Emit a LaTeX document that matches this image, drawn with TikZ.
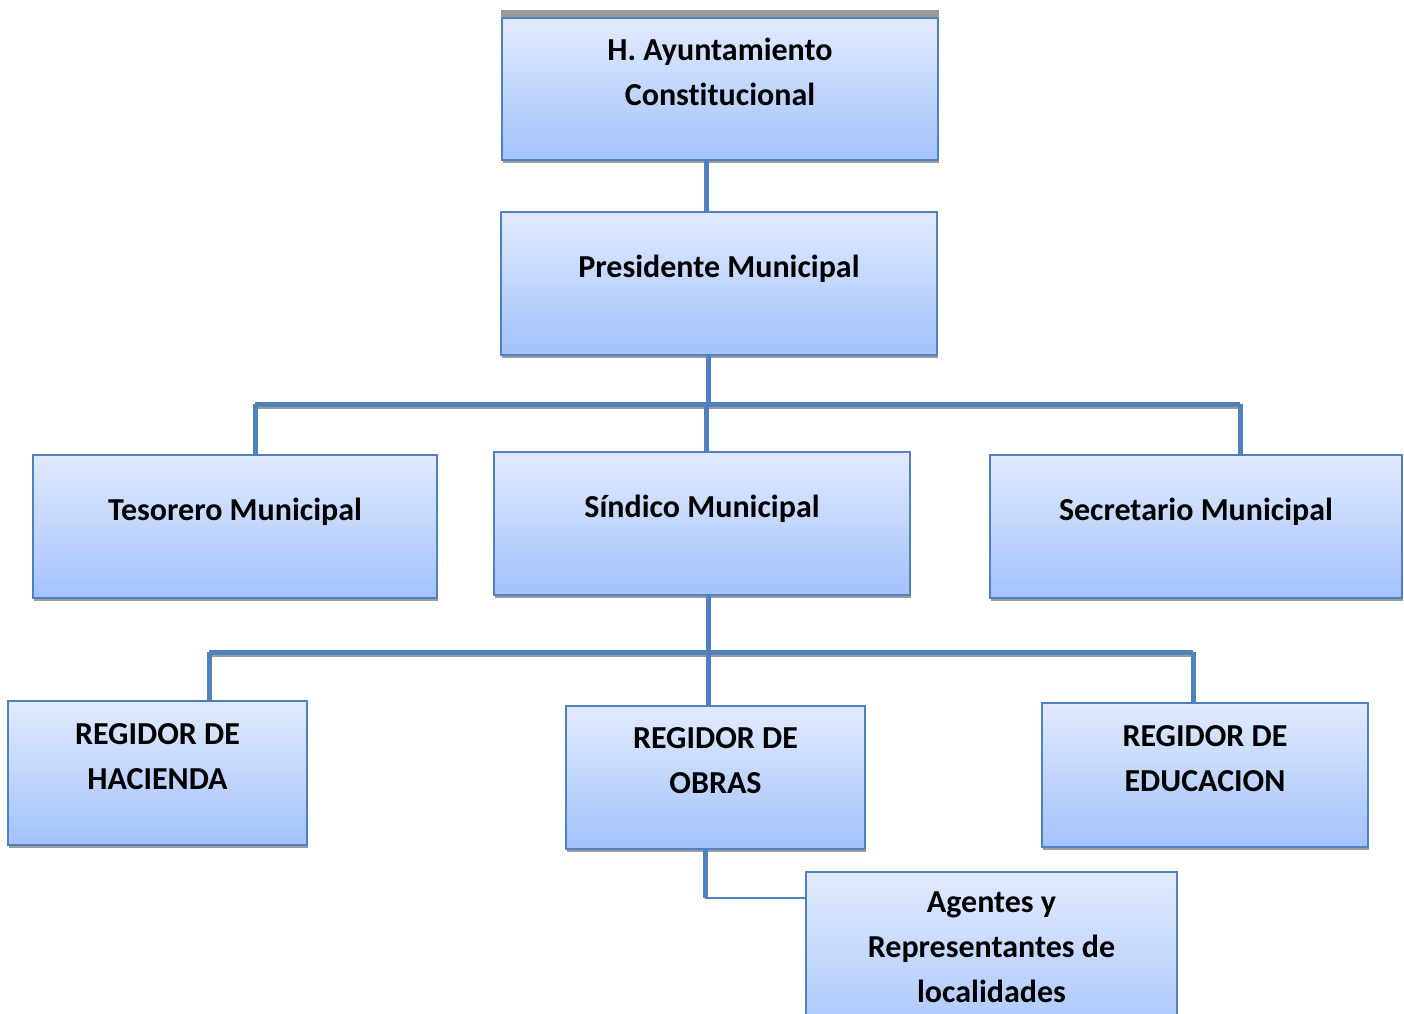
\documentclass[tikz,border=0pt]{standalone}
\usepackage{fontspec}
\setmainfont{Carlito}[Ligatures=NoCommon]
\usetikzlibrary{shadows}
\definecolor{boxtop}{HTML}{E1EAFD}
\definecolor{boxbot}{HTML}{A3C2FC}
\definecolor{orgline}{HTML}{4F81BD}
\definecolor{shadegray}{HTML}{9C9C9C}
\tikzset{
  orgbox/.style={draw=orgline, line width=1.8pt, top color=boxtop, bottom color=boxbot,
    inner sep=0pt, align=center,
    font=\bfseries\fontsize{32}{45}\selectfont,
    drop shadow={shadow xshift=1pt, shadow yshift=-3pt, fill=shadegray, opacity=1},
    execute at end node={\rule[-34pt]{0pt}{0pt}}},
  orglink/.style={draw=orgline, line width=5pt},
  linkshadow/.style={draw=shadegray, line width=4pt}
}
\begin{document}
\begin{tikzpicture}[x=1pt,y=-1pt]
\useasboundingbox (0,0) rectangle (1404,1013);

\node[orgbox, minimum width=436, minimum height=142, drop shadow={opacity=0}] (ayun) at (720,89) {H. Ayuntamiento\\Constitucional};
\fill[shadegray] ([yshift=7pt]ayun.north west) rectangle (ayun.north east);
\node[orgbox, minimum width=436, minimum height=143] (pres) at (719,283.5) {Presidente Municipal};

\node[orgbox, minimum width=404, minimum height=143] (teso) at (235,526.5) {Tesorero Municipal};
\node[orgbox, minimum width=416, minimum height=143] (sind) at (702,523.5) {Síndico Municipal};
\node[orgbox, minimum width=412, minimum height=143] (secr) at (1196,526.5) {Secretario Municipal};

\node[orgbox, minimum width=299, minimum height=144] (hac) at (157.5,773) {REGIDOR DE\\HACIENDA};
\node[orgbox, minimum width=299, minimum height=143] (obras) at (715.5,777.5) {REGIDOR DE\\OBRAS};
\node[orgbox, minimum width=326, minimum height=144] (edu) at (1205,775) {REGIDOR DE\\EDUCACION};

\node[orgbox, minimum width=371, minimum height=185] (agen) at (991.5,964.5) {Agentes y\\Representantes de\\localidades};

\coordinate (c0) at (706,186);
\coordinate (b1l) at (255,404);
\coordinate (b1m) at (708,404);
\coordinate (b1s) at (706,404);
\coordinate (b1r) at (1240,404);
\coordinate (b2l) at (209,652);
\coordinate (b2m) at (708,652);
\coordinate (b2r) at (1193,652);
\coordinate (c3) at (705,898);

\draw[orglink] (ayun.south -| c0) -- (pres.north -| c0);

\draw[linkshadow] ([yshift=-3pt]b1l) -- ([yshift=-3pt]b1r);
\draw[orglink] (pres.south -| b1m) -- (b1m);
\draw[orglink] (b1l) -- (b1r);
\draw[orglink] (b1l) -- (teso.north -| b1l);
\draw[orglink] (b1s) -- (sind.north -| b1s);
\draw[orglink] (b1r) -- (secr.north -| b1r);

\draw[linkshadow] ([yshift=-3pt]b2l) -- ([yshift=-3pt]b2r);
\draw[orglink] (sind.south -| b2m) -- (b2m);
\draw[orglink] (b2l) -- (b2r);
\draw[orglink] (b2l) -- (hac.north -| b2l);
\draw[orglink] (b2m) -- (obras.north -| b2m);
\draw[orglink] (b2r) -- (edu.north -| b2r);

\draw[orglink] (obras.south -| c3) -- (c3);
\draw[orgline, line width=2pt] (c3) -- (c3 -| agen.west);
\end{tikzpicture}
\end{document}
